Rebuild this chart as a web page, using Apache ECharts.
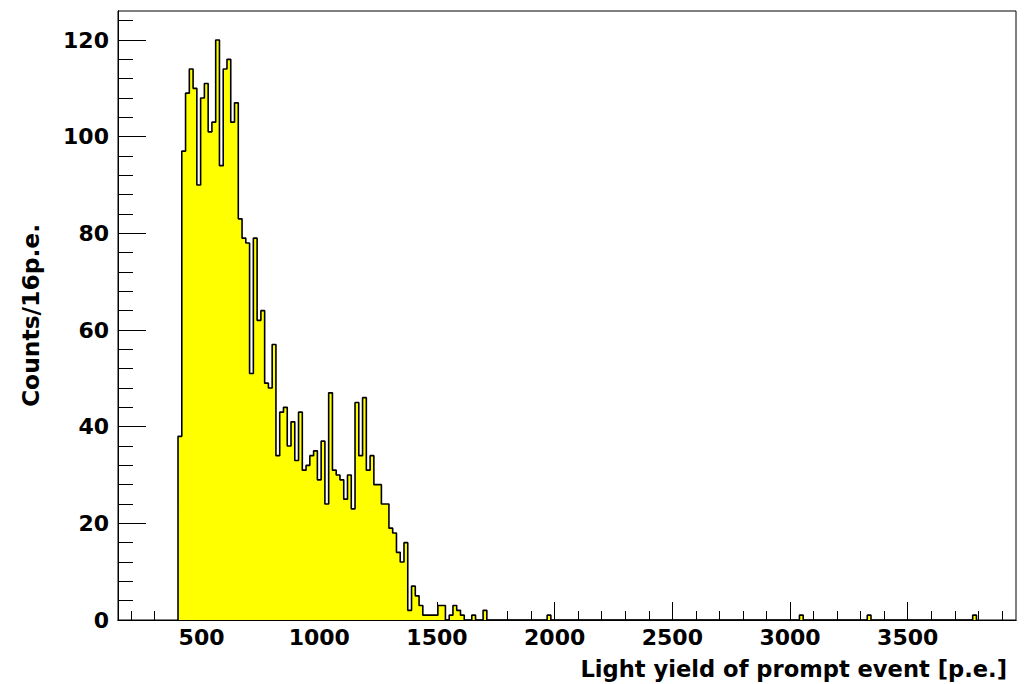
<!DOCTYPE html>
<html>
<head>
<meta charset="utf-8">
<script src="https://cdn.jsdelivr.net/npm/echarts@6/dist/echarts.min.js"></script>
<style>
html,body{margin:0;padding:0;background:#fff;}
#chart{width:1027px;height:684px;}
</style>
</head>
<body>
<div id="chart"></div>
<script>
// ---- data (16 p.e. bins) ----
const binStart = 400;
const binWidth = 16;
const counts = [38,97,109,114,110,90,108,111,101,103,120,94,114,116,103,107,83,79,78,51,
  79,62,64,49,48,57,34,43,44,36,41,33,43,31,32,34,35,29,37,24,
  47,31,30,29,25,30,23,45,34,46,31,34,28,28,24,24,19,18,14,12,
  16,2,7,5,3,1,1,1,1,3,3,0,1,3,2,1,0,0,1,0,0,2];
// isolated far-tail bins: low edge and count
const tailEdges = [1968, 3040, 3328, 3776];
const tailCounts = [1, 1, 1, 1];

const xMin = 145, xMax = 3960;
const yMin = 0, yMax = 126;
const xMajorTicks = [500, 1000, 1500, 2000, 2500, 3000, 3500];
const xMinorTicks = [200,300,400,600,700,800,900,1100,1200,1300,1400,1600,1700,1800,1900,
  2100,2200,2300,2400,2600,2700,2800,2900,3100,3200,3300,3400,3600,3700,3800,3900];
const yMajorTicks = [0, 20, 40, 60, 80, 100, 120];
const yMinorTicks = [4,8,12,16,24,28,32,36,44,48,52,56,64,68,72,76,84,88,92,96,104,108,112,116,124];

const xTitle = 'Light yield of prompt event [p.e.]';
const yTitle = 'Counts/16p.e.';

// ---- build histogram outline (bin edges -> step polygon) ----
const bins = counts.map((c, k) => [binStart + k * binWidth, c]);
tailEdges.forEach((e, i) => bins.push([e, tailCounts[i]]));
bins.sort((a, b) => a[0] - b[0]);
const pts = [];
let prevEnd = null;
bins.forEach(([lo, c]) => {
  const hi = lo + binWidth;
  if (prevEnd === null) pts.push([lo, 0]);
  else if (prevEnd !== lo) { pts.push([prevEnd, 0]); pts.push([lo, 0]); }
  pts.push([lo, c]);
  pts.push([hi, c]);
  prevEnd = hi;
});
pts.push([prevEnd, 0]);

const FONT = 'DejaVu Sans';
const plain = v => String(v);
const chart = echarts.init(document.getElementById('chart'), null, {renderer: 'svg'});
const axisLineStyle = {color: '#000', width: 1};
chart.setOption({
  animation: false,
  backgroundColor: '#fff',
  grid: {left: 118, top: 11, right: 11, bottom: 64, show: true, borderColor: '#000', borderWidth: 1, backgroundColor: 'transparent'},
  xAxis: [
    {
      type: 'value', min: xMin, max: xMax, position: 'bottom',
      axisLine: {show: true, lineStyle: axisLineStyle},
      axisTick: {show: true, inside: true, length: 9, customValues: xMinorTicks, lineStyle: {color: '#000', width: 1}},
      axisLabel: {show: false},
      splitLine: {show: false}
    },
    {
      type: 'value', min: xMin, max: xMax, position: 'bottom',
      axisLine: {show: true, lineStyle: axisLineStyle},
      axisTick: {show: true, inside: true, length: 18, customValues: xMajorTicks, lineStyle: {color: '#000', width: 1}},
      axisLabel: {show: true, customValues: xMajorTicks, formatter: plain, margin: 6, color: '#000', fontFamily: FONT, fontWeight: 'bold', fontSize: 22},
      splitLine: {show: false},
      name: xTitle, nameLocation: 'end', nameGap: -9,
      nameTextStyle: {color: '#000', fontFamily: FONT, fontWeight: 'bold', fontSize: 22.6, align: 'right', verticalAlign: 'top', padding: [37, 0, 0, 0]}
    }
  ],
  yAxis: [
    {
      type: 'value', min: yMin, max: yMax, position: 'left',
      axisLine: {show: true, lineStyle: axisLineStyle},
      axisTick: {show: true, inside: true, length: 28, customValues: yMajorTicks, lineStyle: {color: '#000', width: 1}},
      axisLabel: {show: true, customValues: yMajorTicks, formatter: plain, margin: 9, color: '#000', fontFamily: FONT, fontWeight: 'bold', fontSize: 22},
      splitLine: {show: false},
      name: yTitle, nameLocation: 'middle', nameGap: 76,
      nameTextStyle: {color: '#000', fontFamily: FONT, fontWeight: 'bold', fontSize: 23.4}
    },
    {
      type: 'value', min: yMin, max: yMax, position: 'left',
      axisLine: {show: true, lineStyle: axisLineStyle},
      axisTick: {show: true, inside: true, length: 15, customValues: yMinorTicks, lineStyle: {color: '#000', width: 1}},
      axisLabel: {show: false},
      splitLine: {show: false}
    }
  ],
  series: [{
    type: 'line',
    xAxisIndex: 1, yAxisIndex: 0,
    data: pts,
    symbol: 'none',
    lineStyle: {color: '#000', width: 1.6},
    areaStyle: {color: '#ffff00', opacity: 1},
    z: 1
  }]
});
</script>
</body>
</html>
